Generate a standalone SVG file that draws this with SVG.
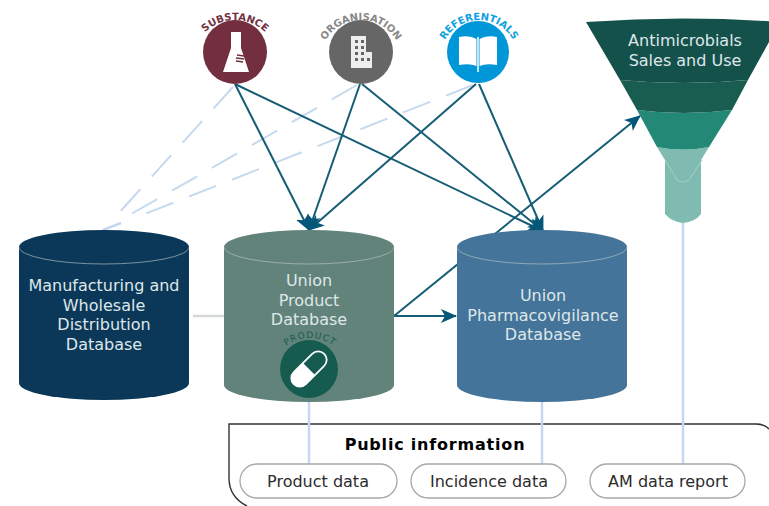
<svg xmlns="http://www.w3.org/2000/svg" width="769" height="506" viewBox="0 0 769 506">
<style>
text{font-family:"DejaVu Sans",Verdana,sans-serif}
.db{font-size:16px;fill:#dfe7ea;text-anchor:middle}
.pill{fill:#fff;stroke:#a8a8a8;stroke-width:1.3}
.pt{font-size:16px;fill:#2b2b2b;text-anchor:middle}
.rim{fill:none;stroke:#b9c6c8;stroke-width:.8;opacity:.8}
.dep{stroke:#155c75;stroke-width:2;fill:none}
.pale{stroke:#c5d8f0;stroke-width:2.5;fill:none}
.dash{stroke:#c6d9ef;stroke-width:2;fill:none;stroke-dasharray:29 17}
.cap{font-size:10px;font-weight:bold}
</style>
<defs>
<marker id="ah" markerUnits="userSpaceOnUse" markerWidth="18" markerHeight="16" refX="15" refY="8" orient="auto"><path d="M0 1L16 8L0 15L4 8Z" fill="#05577a"/></marker>
<path id="c1" d="M192 63A43 43 0 0 1 278 63"/>
<path id="c2" d="M320 61A41 41 0 0 1 402 61"/>
<path id="c3" d="M440 59A39 39 0 0 1 518 59"/>
<path id="c4" d="M270 378A40 40 0 0 1 350 378"/>
</defs>
<g id="public-information">
<path d="M769 429Q764 424 756 424H229V478Q229 497 247 506" fill="none" stroke="#333" stroke-width="1.4"/>
<text x="435" y="450" font-size="16" font-weight="bold" letter-spacing=".8" fill="#000" text-anchor="middle">Public information</text>
</g>
<g id="connectors">
<path class="dash" d="M233 87L117 215"/>
<path class="dash" d="M357 85L126 217"/>
<path class="dash" d="M473 85L137 217"/>
<path class="pale" d="M121 223L103 230"/>
<path class="pale" d="M193 316H224" style="stroke:#d4d9d8"/>
<path class="pale" d="M309 400V464"/>
<path class="pale" d="M542 400V464"/>
<path class="pale" d="M683 222V464"/>
<path class="dep" marker-end="url(#ah)" d="M235 84L309 230"/>
<path class="dep" marker-end="url(#ah)" d="M235 84L543 231"/>
<path class="dep" marker-end="url(#ah)" d="M360 84L309 230"/>
<path class="dep" marker-end="url(#ah)" d="M362 84L543 231"/>
<path class="dep" marker-end="url(#ah)" d="M476 84L309 230"/>
<path class="dep" marker-end="url(#ah)" d="M479 84L543 231"/>
<path class="dep" marker-end="url(#ah)" d="M394 316L640 116"/>
<path class="dep" marker-end="url(#ah)" d="M394 316H456"/>
</g>
<g id="manufacturing-db">
<path d="M19 247A85 17 0 0 1 189 247V383A85 17 0 0 1 19 383Z" fill="#0b3858"/>
<path class="rim" d="M19 247A85 17 0 0 0 189 247"/>
<text class="db"><tspan x="104" y="291">Manufacturing and</tspan><tspan x="104" y="310.500">Wholesale</tspan><tspan x="104" y="330">Distribution</tspan><tspan x="104" y="349.500">Database</tspan></text>
</g>
<g id="product-db">
<path d="M224 247A85 17 0 0 1 394 247V385A85 17 0 0 1 224 385Z" fill="#62837a"/>
<path class="rim" d="M224 247A85 17 0 0 0 394 247"/>
<text class="db"><tspan x="309" y="286">Union</tspan><tspan x="309" y="305.500">Product</tspan><tspan x="309" y="325">Database</tspan></text>
</g>
<g id="product-badge">
<circle cx="309" cy="369" r="29" fill="#155b50"/>
<g transform="rotate(45 309 369)">
<rect x="300.500" y="347.500" width="17" height="43" rx="8.500" fill="none" stroke="#fff" stroke-width="1.800"/>
<path d="M300.500 369H317.500V382A8.500 8.500 0 0 1 300.500 382Z" fill="#fff"/>
</g>
<text fill="#155b50" style="font-size:9px;letter-spacing:1px"><textPath href="#c4" startOffset="50%" text-anchor="middle">PRODUCT</textPath></text>
</g>
<g id="pharmacovigilance-db">
<path d="M457 247A85 17 0 0 1 627 247V385A85 17 0 0 1 457 385Z" fill="#447499"/>
<path class="rim" d="M457 247A85 17 0 0 0 627 247"/>
<text class="db"><tspan x="543" y="301">Union</tspan><tspan x="543" y="320.500">Pharmacovigilance</tspan><tspan x="543" y="340">Database</tspan></text>
</g>
<g id="substance">
<circle cx="235" cy="52" r="32" fill="#732f3f"/>
<path d="M231 32H241V48L249 72H223L231 48Z" fill="#fff"/>
<path d="M237 55L244 56M236 58L244 59M236 61L243 62" stroke="#732f3f" stroke-width="1.500"/>
<text class="cap" fill="#732f3f"><textPath href="#c1" startOffset="50%" text-anchor="middle">SUBSTANCE</textPath></text>
</g>
<g id="organisation">
<circle cx="361" cy="52" r="32" fill="#666"/>
<path d="M352 36H366V52H372V68H351V36Z" fill="#eee"/>
<path d="M355 40h3v3h-3zM361 40h3v3h-3zM355 46h3v3h-3zM361 46h3v3h-3zM355 52h3v3h-3zM361 52h3v3h-3zM355 58h3v3h-3zM361 58h3v3h-3zM367 58h3v3h-3z" fill="#666"/>
<text class="cap" fill="#888"><textPath href="#c2" startOffset="50%" text-anchor="middle">ORGANISATION</textPath></text>
</g>
<g id="referentials">
<circle cx="478" cy="52" r="31" fill="#0097d8"/>
<path d="M459 37Q470 35 476.500 39V66Q470 63 459 65Z" fill="#fff"/>
<path d="M497 37Q486 35 479.500 39V66Q486 63 497 65Z" fill="#fff"/>
<path d="M478 37V72" stroke="#fff" stroke-width="1.500"/>
<text class="cap" fill="#0f9fe0"><textPath href="#c3" startOffset="50%" text-anchor="middle">REFERENTIALS</textPath></text>
</g>
<g id="funnel">
<path d="M657 147L665 160V214Q672 222 683 223Q695 222 701 214V160L709 147Q683 152 657 147Z" fill="#7fbbb0"/>
<path d="M665 160L677 180Q683 184 689 180L702 160" fill="none" stroke="#a5d0c8" stroke-width="1"/>
<path d="M637 110Q683 116 732 110L709 147Q683 152 657 147Z" fill="#238876"/>
<path d="M620 80Q683 86 748 80L732 110Q683 116 637 110Z" fill="#195c50"/>
<path d="M586 22Q683 15 780 22L748 80Q683 86 620 80Z" fill="#14514a"/>
<text x="685" y="46" font-size="16" fill="#dfe7ea" text-anchor="middle">Antimicrobials</text>
<text x="685" y="65.500" font-size="16" fill="#dfe7ea" text-anchor="middle">Sales and Use</text>
</g>
<g id="product-data"><rect class="pill" x="240" y="464" width="157" height="34" rx="17"/><text class="pt" x="318" y="486.500">Product data</text></g>
<g id="incidence-data"><rect class="pill" x="411" y="464" width="155" height="34" rx="17"/><text class="pt" x="489" y="486.500">Incidence data</text></g>
<g id="am-data-report"><rect class="pill" x="590" y="464" width="155" height="34" rx="17"/><text class="pt" x="668" y="486.500">AM data report</text></g>
</svg>
